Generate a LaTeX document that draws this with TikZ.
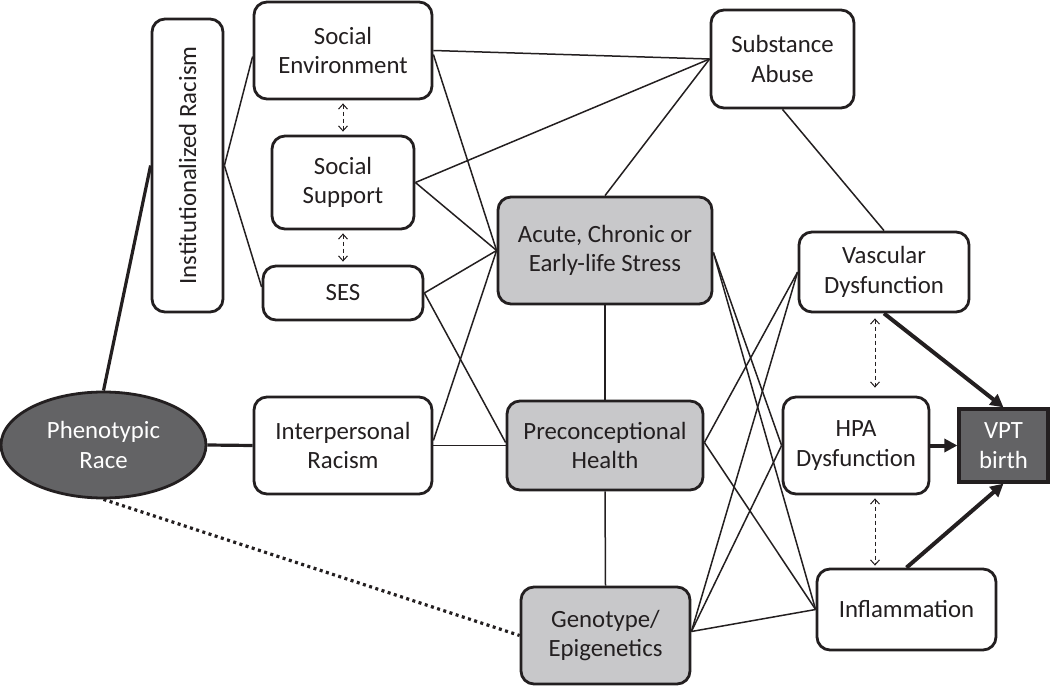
\documentclass[tikz,border=0pt]{standalone}
\usepackage{fontspec}
\usepackage{graphicx}
\setmainfont{Carlito}
\usetikzlibrary{arrows.meta,shapes.geometric,backgrounds}
\definecolor{ink}{HTML}{231F20}
\definecolor{lightg}{HTML}{C8C8CA}
\definecolor{darkg}{HTML}{636365}
\begin{document}
\begin{tikzpicture}[x=1pt,y=-1pt,
  every node/.style={font=\fontsize{24.8}{29.4}\selectfont, text=ink},
  box/.style={draw=ink, line width=2.8pt, rounded corners=13pt, fill=white, align=center, inner sep=0pt},
  graybox/.style={box, fill=lightg},
  sz/.style 2 args={minimum width=#1pt, minimum height=#2pt},
  link/.style={draw=ink, line width=1.5pt},
  heavy/.style={draw=ink, line width=3.2pt},
  dotlink/.style={draw=ink, line width=3.2pt, dash pattern=on 3pt off 3.5pt},
  dashpair/.style={draw=ink, line width=1pt, dash pattern=on 4pt off 3pt,
     {Straight Barb[length=5pt,width=9pt]}-{Straight Barb[length=5pt,width=9pt]}},
  tovpt/.style={draw=ink, line width=4pt, -{Triangle[length=13pt,width=13pt]}}
]
\useasboundingbox (0,0) rectangle (1050,687);

% nodes
\node[box, sz={71}{293}] (inst) at (187.5,165.5) {\rotatebox{90}{Institutionalized Racism}};
\node[box, sz={178}{97}] (socenv) at (343,50.5) {Social\\Environment};
\node[box, sz={142}{93}] (socsup) at (343,182.5) {Social\\Support};
\node[box, sz={160}{54}] (ses) at (343,293) {SES};
\node[box, sz={178}{97}] (inter) at (343,445.5) {Interpersonal\\Racism};
\node[ellipse, draw=ink, line width=2.8pt, fill=darkg, text=white, align=center, inner sep=0pt, sz={205}{106}] (pheno) at (103.5,445) {Phenotypic\\Race};
\node[box, sz={143}{98}] (subst) at (782.5,59) {Substance\\Abuse};
\node[graybox, sz={214}{107}] (acute) at (605,250.5) {Acute, Chronic or\\Early-life Stress};
\node[graybox, sz={196}{89}] (precon) at (605,445.5) {Preconceptional\\Health};
\node[graybox, sz={169}{97}] (geno) at (605.5,635.5) {Genotype/\\Epigenetics};
\node[box, sz={170}{80}] (vasc) at (884,272) {Vascular\\Dysfunction};
\node[box, sz={146}{97}] (hpa) at (856,445.5) {HPA\\Dysfunction};
\node[box, sz={179}{81}] (infl) at (906.5,609.5) {Inflammation};
\node[draw=ink, line width=3.2pt, fill=darkg, text=white, align=center, inner sep=0pt, sz={89}{73}] (vpt) at (1003.5,445.5) {VPT\\birth};

% connectors
\begin{scope}[on background layer]
\draw[heavy] (pheno.north) -- (inst.west);
\draw[heavy] (pheno.east) -- (inter.west);
\draw[dotlink] (pheno.south) -- (geno.west);
\draw[link] (inst.east) -- ([yshift=-6pt]socenv.west);
\draw[link] (inst.east) -- ([yshift=6pt]ses.west);
\draw[link] (socenv.east) -- (subst.west);
\draw[link] ([yshift=-4pt]socenv.east) -- (acute.west);
\draw[link] (socsup.east) -- (subst.west);
\draw[link] (socsup.east) -- (acute.west);
\draw[link] (ses.east) -- (acute.west);
\draw[link] (ses.east) -- ([yshift=3pt]precon.west);
\draw[link] ([yshift=5pt]inter.east) -- (acute.west);
\draw[link] (inter.east) -- (precon.west);
\draw[link] (acute.north) -- (subst.west);
\draw[link] (acute.south) -- (precon.north);
\draw[link] (precon.south) -- (geno.north);
\draw[link] (subst.south) -- (vasc.north);
\draw[link] ([yshift=-2pt]acute.east) -- (hpa.west);
\draw[link] ([yshift=-2pt]acute.east) -- (infl.west);
\draw[link] ([yshift=3pt]precon.east) -- (vasc.west);
\draw[link] ([yshift=3pt]precon.east) -- (infl.west);
\draw[link] ([yshift=4pt]geno.east) -- (vasc.west);
\draw[link] ([yshift=4pt]geno.east) -- (hpa.west);
\draw[link] ([yshift=4pt]geno.east) -- (infl.west);
\end{scope}

\draw[dashpair] ([yshift=-3pt]socenv.south) -- ([yshift=3pt]socsup.north);
\draw[dashpair] ([yshift=-3pt]socsup.south) -- ([yshift=3pt]ses.north);
\draw[dashpair] ([xshift=-9pt,yshift=-5pt]vasc.south) -- ([xshift=19pt,yshift=8pt]hpa.north);
\draw[dashpair] ([xshift=19pt,yshift=-3pt]hpa.south) -- ([xshift=-31.5pt,yshift=2pt]infl.north);

\draw[tovpt] (vasc.south) -- (vpt.north);
\draw[tovpt] (hpa.east) -- (vpt.west);
\draw[tovpt] (infl.north) -- (vpt.south);
\end{tikzpicture}
\end{document}
